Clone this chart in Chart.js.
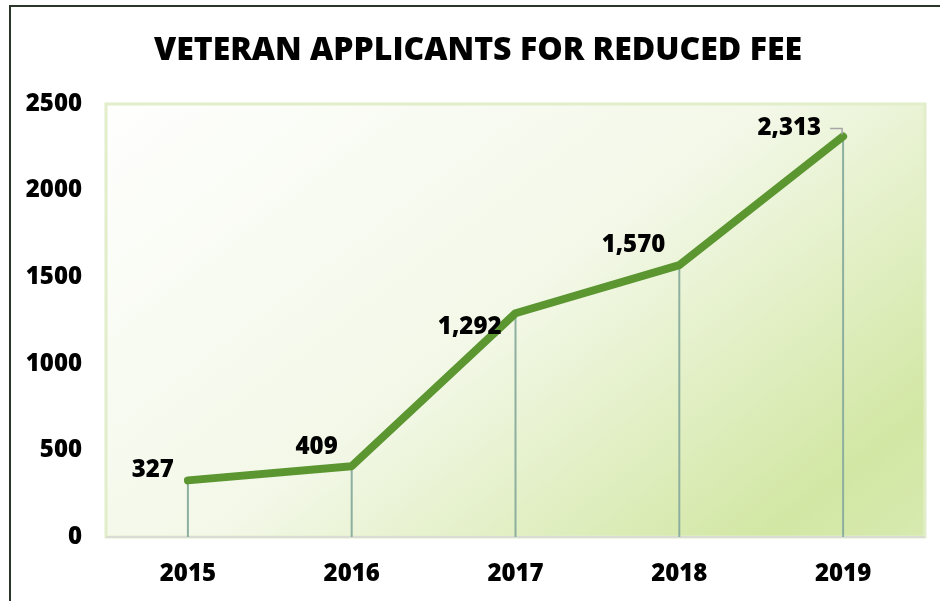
<!DOCTYPE html>
<html>
<head>
<meta charset="utf-8">
<script src="https://cdn.jsdelivr.net/npm/chart.js@4/dist/chart.umd.min.js"></script>
<style>
  html, body { margin: 0; padding: 0; background: #fff; }
  #wrap { width: 940px; height: 601px; position: relative; }
</style>
</head>
<body>
<div id="wrap"><canvas id="chart" width="940" height="601"></canvas></div>
<script>
const years = ["2015", "2016", "2017", "2018", "2019"];
const applicants = [327, 409, 1292, 1570, 2313];
const yTicks = [0, 500, 1000, 1500, 2000, 2500];
const title = "VETERAN APPLICANTS FOR REDUCED FEE";

// label nudges (dy) so the numbers sit like in the original
const labelDy = [-10, -19, 14, -20, -8];

const FONT = "'Open Sans', sans-serif";

const frame = {
  id: "frame",
  beforeDraw(chart) {
    const { ctx, chartArea: a, width, height } = chart;
    ctx.save();
    ctx.fillStyle = "#fff";
    ctx.fillRect(0, 0, width, height);

    // outer border (left + top only visible)
    ctx.strokeStyle = "#2b362b";
    ctx.lineWidth = 2;
    ctx.beginPath();
    ctx.moveTo(10, height);
    ctx.lineTo(10, 6);
    ctx.lineTo(width, 6);
    ctx.stroke();

    // plot area gradient
    const g = ctx.createLinearGradient(a.left + 150, a.top - 150, a.right - 80, a.bottom + 180);
    g.addColorStop(0, "#ffffff");
    g.addColorStop(0.45, "#f3f8e8");
    g.addColorStop(0.8, "#d2e7a4");
    g.addColorStop(1, "#dcecbb");
    ctx.fillStyle = g;
    ctx.fillRect(a.left, a.top, a.right - a.left, a.bottom - a.top);

    ctx.strokeStyle = "#e2eeca";
    ctx.lineWidth = 3;
    ctx.strokeRect(a.left, a.top, a.right - a.left, a.bottom - a.top);

    ctx.strokeStyle = "#d9dcd4";
    ctx.lineWidth = 2;
    ctx.beginPath();
    ctx.moveTo(a.left, a.bottom);
    ctx.lineTo(a.right, a.bottom);
    ctx.stroke();

    // title
    ctx.fillStyle = "#000";
    ctx.font = "800 32px " + FONT;
    ctx.textAlign = "center";
    ctx.textBaseline = "middle";
    ctx.fillText(title, 478, 51);
    ctx.restore();
  },
  beforeDatasetsDraw(chart) {
    const { ctx, chartArea: a } = chart;
    const meta = chart.getDatasetMeta(0);
    ctx.save();
    ctx.strokeStyle = "#8daf9f";
    ctx.lineWidth = 2;
    meta.data.forEach((p) => {
      ctx.beginPath();
      ctx.moveTo(p.x, p.y);
      ctx.lineTo(p.x, a.bottom);
      ctx.stroke();
    });
    ctx.restore();
  },
  afterDatasetsDraw(chart) {
    const { ctx } = chart;
    const meta = chart.getDatasetMeta(0);
    ctx.save();
    ctx.font = "800 24px " + FONT;
    ctx.fillStyle = "#000";
    ctx.textAlign = "right";
    ctx.textBaseline = "middle";
    meta.data.forEach((p, i) => {
      const last = i === meta.data.length - 1;
      const gap = last ? 22 : 14;
      ctx.fillText(applicants[i].toLocaleString("en-US"), p.x - gap, p.y + labelDy[i]);
      if (last) {
        ctx.strokeStyle = "#a6a6a6";
        ctx.lineWidth = 1.5;
        ctx.beginPath();
        ctx.moveTo(p.x - 13, p.y + labelDy[i]);
        ctx.lineTo(p.x - 1, p.y + labelDy[i]);
        ctx.lineTo(p.x - 1, p.y - 2);
        ctx.stroke();
      }
    });
    ctx.restore();
  }
};

new Chart(document.getElementById("chart").getContext("2d"), {
  type: "line",
  data: {
    labels: years,
    datasets: [{
      data: applicants,
      borderColor: "#5b9631",
      borderWidth: 8,
      borderCapStyle: "round",
      borderJoinStyle: "round",
      pointRadius: 0,
      tension: 0
    }]
  },
  options: {
    responsive: false,
    animation: false,
    layout: { padding: { left: 0, right: 15, top: 104, bottom: 0 } },
    plugins: {
      legend: { display: false },
      tooltip: { enabled: false },
      title: { display: false }
    },
    scales: {
      x: {
        offset: true,
        grid: { display: false, drawTicks: false },
        border: { display: false },
        ticks: { color: "#000", font: { family: FONT, size: 24, weight: 800 }, padding: 23 },
        afterFit(s) { s.height = 64; }
      },
      y: {
        min: 0,
        max: 2500,
        afterBuildTicks(s) { s.ticks = yTicks.map((v) => ({ value: v })); },
        grid: { display: false, drawTicks: false },
        border: { display: false },
        ticks: {
          color: "#000",
          font: { family: FONT, size: 24, weight: 800 },
          padding: 24,
          callback: (v) => String(v)
        },
        afterFit(s) { s.width = 106; }
      }
    }
  },
  plugins: [frame]
});
</script>
</body>
</html>
